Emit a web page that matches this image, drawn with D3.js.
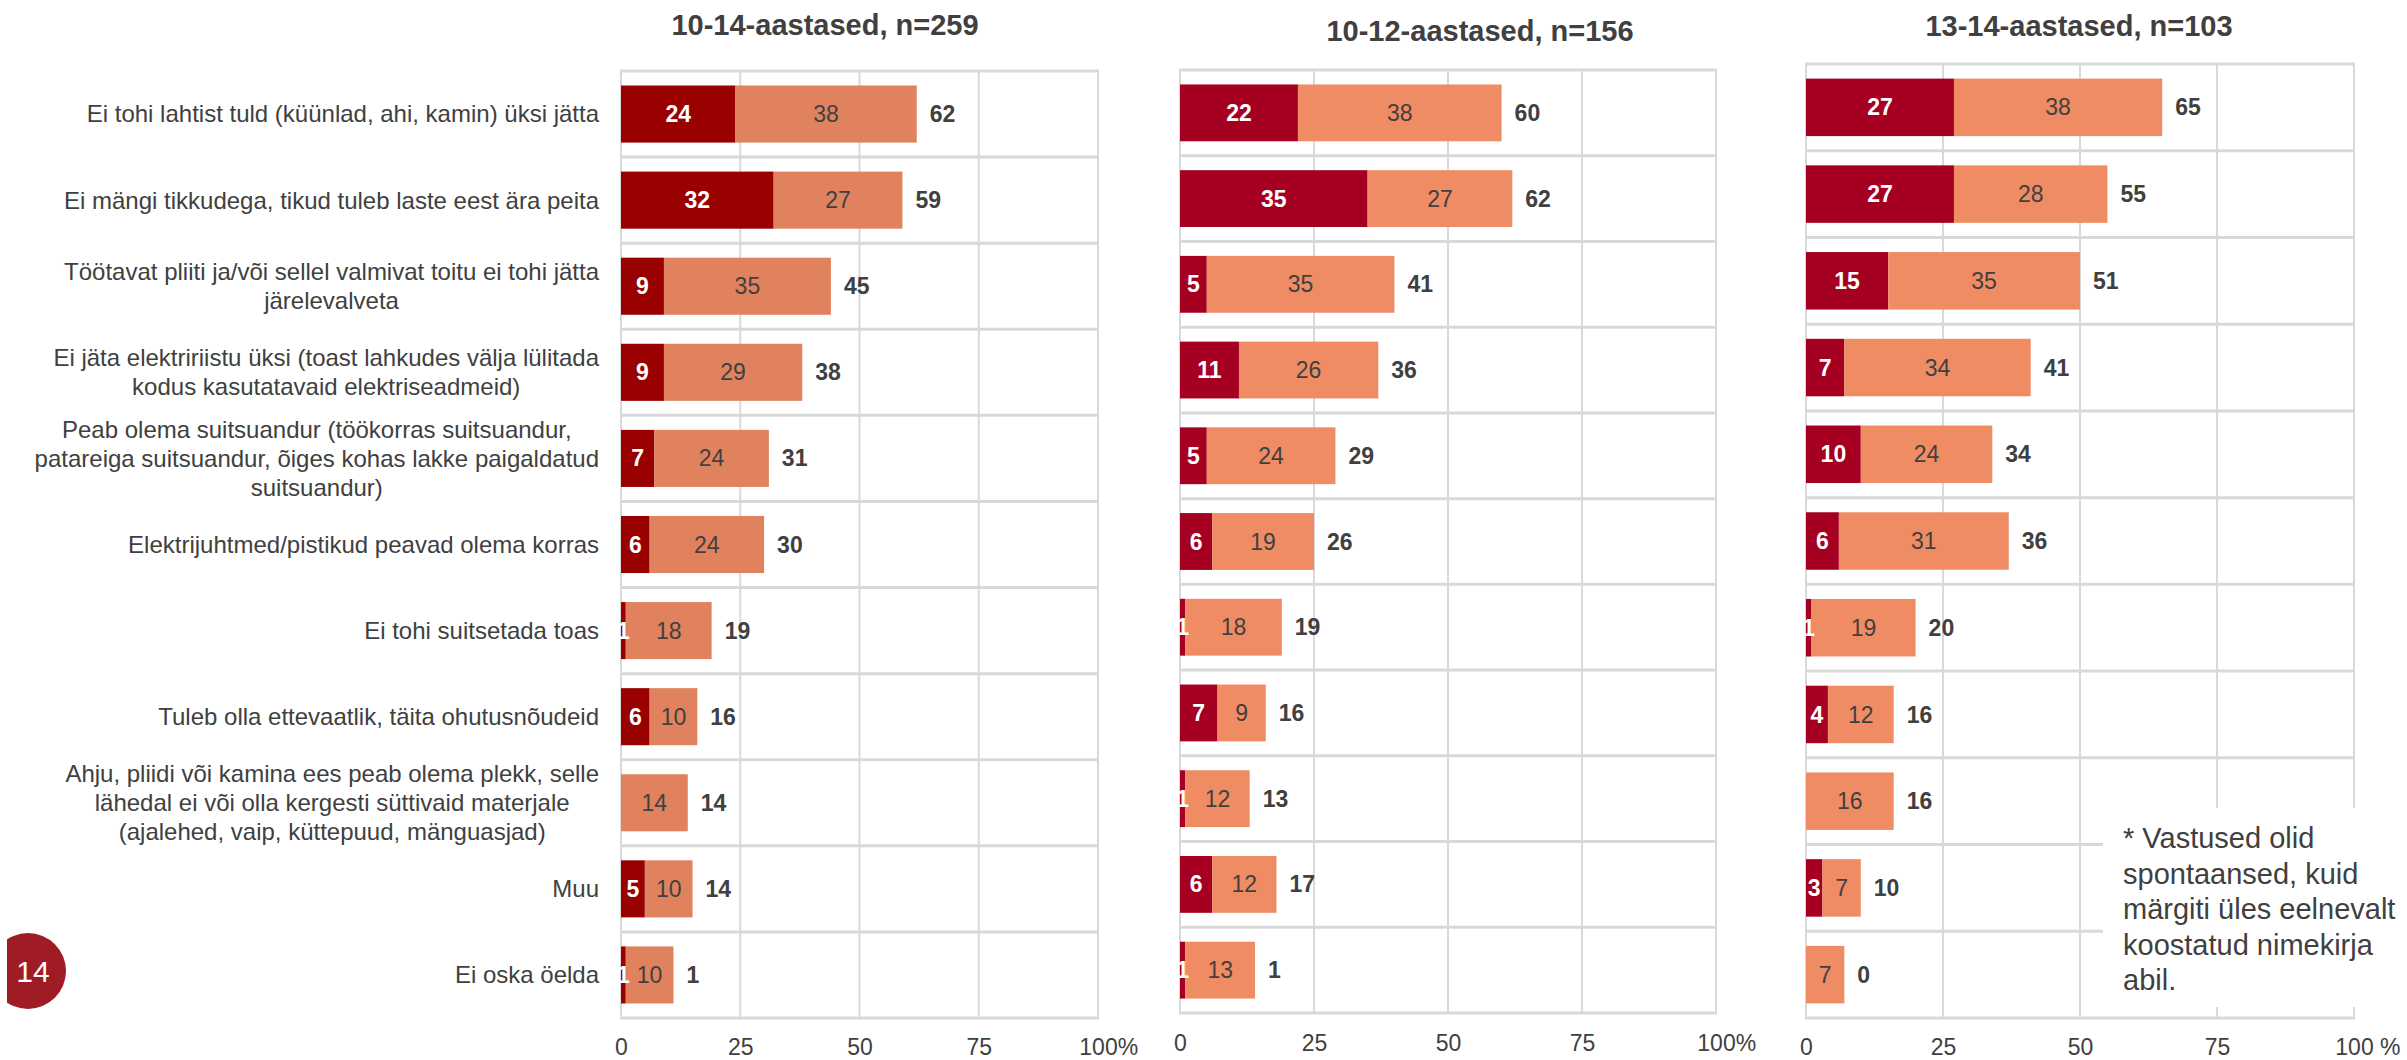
<!DOCTYPE html>
<html>
<head>
<meta charset="utf-8">
<script src="https://cdn.jsdelivr.net/npm/d3@7"></script>
<style>
body { margin: 0; background: #fff; }
text { font-family: "Liberation Sans", Arial, sans-serif; }
</style>
</head>
<body>
<div id="app"></div>
<script>
const width = 2407,
    height = 1060;

const categories = [
    "Ei tohi lahtist tuld (küünlad, ahi, kamin) üksi jätta",
    "Ei mängi tikkudega, tikud tuleb laste eest ära peita",
    "Töötavat pliiti ja/või sellel valmivat toitu ei tohi jätta\njärelevalveta",
    "Ei jäta elektririistu üksi (toast lahkudes välja lülitada\nkodus kasutatavaid elektriseadmeid)",
    "Peab olema suitsuandur (töökorras suitsuandur,\npatareiga suitsuandur, õiges kohas lakke paigaldatud\nsuitsuandur)",
    "Elektrijuhtmed/pistikud peavad olema korras",
    "Ei tohi suitsetada toas",
    "Tuleb olla ettevaatlik, täita ohutusnõudeid",
    "Ahju, pliidi või kamina ees peab olema plekk, selle\nlähedal ei või olla kergesti süttivaid materjale\n(ajalehed, vaip, küttepuud, mänguasjad)",
    "Muu",
    "Ei oska öelda"
];

const groupTitles = ["10-14-aastased, n=259", "10-12-aastased, n=156", "13-14-aastased, n=103"];

// 10-14
const darkAll = [24, 32, 9, 9, 7, 6, 1, 6, 0, 5, 1];
const lightAll = [38, 27, 35, 29, 24, 24, 18, 10, 14, 10, 10];
const totalAll = ["62", "59", "45", "38", "31", "30", "19", "16", "14", "14", "1"];

// 10-12
const darkYoung = [22, 35, 5, 11, 5, 6, 1, 7, 1, 6, 1];
const lightYoung = [38, 27, 35, 26, 24, 19, 18, 9, 12, 12, 13];
const totalYoung = ["60", "62", "41", "36", "29", "26", "19", "16", "13", "17", "1"];

// 13-14
const darkOld = [27, 27, 15, 7, 10, 6, 1, 4, 0, 3, 0];
const lightOld = [38, 28, 35, 34, 24, 31, 19, 12, 16, 7, 7];
const totalOld = ["65", "55", "51", "41", "34", "36", "20", "16", "16", "10", "0"];

const tickValues = [0, 25, 50, 75, 100];
const tickLabels = ["0", "25", "50", "75", "100%"];
const tickLabelsOld = ["0", "25", "50", "75", "100 %"];

const footnote = ["* Vastused olid", "spontaansed, kuid", "märgiti üles eelnevalt", "koostatud nimekirja", "abil."];
const pageNumber = "14";

const textColor = "#404040",
    gridColor = "#d9d9d9";

const panels = [
    {title: groupTitles[0], dark: darkAll, light: lightAll, total: totalAll, ticks: tickLabels,
        left: 621, right: 1098, top: 71, bottom: 1018, titleX: 825, titleY: 35, axisY: 1039,
        darkColor: "#990000", lightColor: "#e0825e"},
    {title: groupTitles[1], dark: darkYoung, light: lightYoung, total: totalYoung, ticks: tickLabels,
        left: 1180, right: 1716, top: 70, bottom: 1013, titleX: 1480, titleY: 41, axisY: 1035,
        darkColor: "#a50021", lightColor: "#f08c64"},
    {title: groupTitles[2], dark: darkOld, light: lightOld, total: totalOld, ticks: tickLabelsOld,
        left: 1806, right: 2354, top: 64, bottom: 1018, titleX: 2079, titleY: 36, axisY: 1039,
        darkColor: "#a50021", lightColor: "#f08c64"}
];

const svg = d3.select("#app")
    .append("svg")
    .attr("width", width)
    .attr("height", height)
    .style("display", "block");

const pad = 0.337;

panels.forEach((p, pi) => {
    const x = d3.scaleLinear().domain([0, 100]).range([p.left, p.right]);
    const y = d3.scaleBand().domain(categories).range([p.top, p.bottom])
        .paddingInner(pad).paddingOuter(pad / 2);
    const step = y.step();

    const g = svg.append("g").attr("class", "panel");

    // title
    g.append("text")
        .attr("x", p.titleX)
        .attr("y", p.titleY)
        .attr("text-anchor", "middle")
        .attr("font-size", 29)
        .attr("font-weight", "bold")
        .attr("fill", textColor)
        .text(p.title);

    // vertical grid
    g.append("g").selectAll("line")
        .data(tickValues).enter()
        .append("line")
        .attr("x1", d => x(d)).attr("x2", d => x(d))
        .attr("y1", p.top).attr("y2", p.bottom)
        .attr("stroke", gridColor)
        .attr("stroke-width", 2);

    // row separators
    const rowEdges = categories.map(c => y(c) - step * pad / 2).concat([p.bottom]);
    g.append("g").selectAll("line")
        .data(rowEdges).enter()
        .append("line")
        .attr("x1", p.left - 1).attr("x2", p.right + 1)
        .attr("y1", d => d).attr("y2", d => d)
        .attr("stroke", gridColor)
        .attr("stroke-width", 3);

    const rows = categories.map((c, i) => ({c, d: p.dark[i], l: p.light[i], t: p.total[i]}));

    // dark segment
    g.append("g").selectAll("rect")
        .data(rows.filter(r => r.d > 0)).enter()
        .append("rect")
        .attr("x", x(0))
        .attr("y", r => y(r.c))
        .attr("width", r => x(r.d) - x(0))
        .attr("height", y.bandwidth())
        .attr("fill", p.darkColor);

    // light segment
    g.append("g").selectAll("rect")
        .data(rows).enter()
        .append("rect")
        .attr("x", r => x(r.d))
        .attr("y", r => y(r.c))
        .attr("width", r => x(r.d + r.l) - x(r.d))
        .attr("height", y.bandwidth())
        .attr("fill", p.lightColor);

    // labels inside bars
    g.append("g").selectAll("text")
        .data(rows.filter(r => r.d > 0)).enter()
        .append("text")
        .attr("x", r => (x(0) + x(r.d)) / 2)
        .attr("y", r => y(r.c) + y.bandwidth() / 2)
        .attr("dy", "0.35em")
        .attr("text-anchor", "middle")
        .attr("font-size", 23)
        .attr("font-weight", "bold")
        .attr("fill", "#fff")
        .text(r => r.d);

    g.append("g").selectAll("text")
        .data(rows).enter()
        .append("text")
        .attr("x", r => (x(r.d) + x(r.d + r.l)) / 2)
        .attr("y", r => y(r.c) + y.bandwidth() / 2)
        .attr("dy", "0.35em")
        .attr("text-anchor", "middle")
        .attr("font-size", 23)
        .attr("fill", textColor)
        .text(r => r.l);

    // totals
    g.append("g").selectAll("text")
        .data(rows).enter()
        .append("text")
        .attr("x", r => x(r.d + r.l) + 13)
        .attr("y", r => y(r.c) + y.bandwidth() / 2)
        .attr("dy", "0.35em")
        .attr("font-size", 23)
        .attr("font-weight", "bold")
        .attr("fill", textColor)
        .text(r => r.t);

    // x axis
    const axis = g.append("g")
        .attr("transform", `translate(0, ${p.axisY})`)
        .call(d3.axisBottom(x)
            .tickValues(tickValues)
            .tickSize(0)
            .tickPadding(0)
            .tickFormat((d, i) => p.ticks[i]));
    axis.select(".domain").remove();
    axis.selectAll("text")
        .attr("font-size", 23)
        .attr("font-family", "'Liberation Sans', Arial, sans-serif")
        .attr("fill", textColor);
    // keep the number centred on the tick, the percent sign hangs to the right
    axis.selectAll(".tick").filter(d => d === 100).select("text")
        .each(function () {
            const t = d3.select(this);
            const full = this.getComputedTextLength();
            t.text("100");
            const num = this.getComputedTextLength();
            t.text(p.ticks[4]).attr("text-anchor", "start").attr("x", -num / 2);
        });

    // category labels next to first panel
    if (pi === 0) {
        const labelRight = p.left - 22;
        const lineH = 29;
        categories.forEach(c => {
            const lines = c.split("\n");
            const t = svg.append("text")
                .attr("font-size", 24)
                .attr("fill", textColor)
                .attr("text-anchor", "middle");
            const cy = y(c) + y.bandwidth() / 2;
            lines.forEach((ln, k) => {
                t.append("tspan")
                    .attr("y", cy + (k - (lines.length - 1) / 2) * lineH)
                    .attr("dy", "0.35em")
                    .text(ln);
            });
            let w = 0;
            t.selectAll("tspan").each(function () { w = Math.max(w, this.getComputedTextLength()); });
            t.selectAll("tspan").attr("x", labelRight - w / 2);
        });
    }
});

// footnote box over the last panel
svg.append("rect")
    .attr("x", 2103)
    .attr("y", 808)
    .attr("width", width - 2103)
    .attr("height", 199)
    .attr("fill", "#fff");

svg.append("text")
    .attr("font-size", 29)
    .attr("fill", textColor)
    .selectAll("tspan")
    .data(footnote).enter()
    .append("tspan")
    .attr("x", 2123)
    .attr("y", (d, i) => 848 + i * 35.5)
    .text(d => d);

// page badge
svg.append("clipPath").attr("id", "badgeClip")
    .append("rect").attr("x", 7).attr("y", 900).attr("width", 100).attr("height", 140);
svg.append("circle")
    .attr("cx", 28)
    .attr("cy", 971)
    .attr("r", 38)
    .attr("fill", "#a01c25")
    .attr("clip-path", "url(#badgeClip)");
svg.append("text")
    .attr("x", 33)
    .attr("y", 971)
    .attr("dy", "0.35em")
    .attr("text-anchor", "middle")
    .attr("font-size", 30)
    .attr("fill", "#fff")
    .text(pageNumber);
</script>
</body>
</html>
